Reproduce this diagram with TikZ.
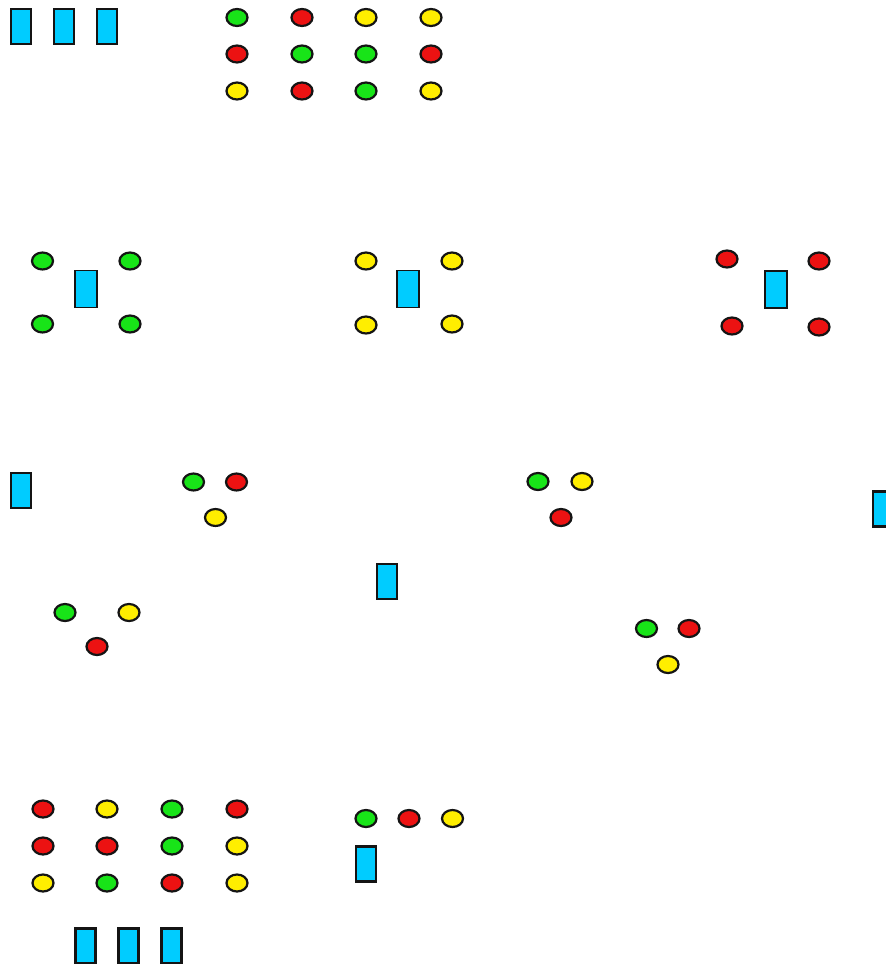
\documentclass[tikz,border=0pt]{standalone}
\definecolor{cgreen}{RGB}{24,228,24}
\definecolor{cred}{RGB}{236,18,18}
\definecolor{cyel}{RGB}{255,238,0}
\definecolor{ccyan}{RGB}{0,204,255}
\definecolor{cedge}{RGB}{20,20,20}
\tikzset{
  lamp/.style={ellipse, draw=cedge, line width=2.2pt, minimum width=21pt, minimum height=17pt, inner sep=0pt},
  G/.style={lamp, fill=cgreen},
  R/.style={lamp, fill=cred},
  Y/.style={lamp, fill=cyel},
  box/.style={rectangle, draw=cedge, fill=ccyan, line width=2.6pt, minimum width=20pt, minimum height=35pt, inner sep=0pt},
  thinbox/.style={rectangle, draw=cedge, fill=ccyan, line width=1.3pt, minimum width=22pt, minimum height=37pt, inner sep=0pt},
}
\usetikzlibrary{shapes.geometric}
\begin{document}
\begin{tikzpicture}[x=1pt,y=-1pt]
\useasboundingbox (0,0) rectangle (886,964);
\clip (0,0) rectangle (886,964);
\fill[white] (0,0) rectangle (886,964);
% top-left boxes
\node[box] (b1) at (21,26.5) {};
\node[box] (b2) at (64,26.5) {};
\node[box] (b3) at (107,26.5) {};
% top grid
\node[G] (t11) at (237,17.5) {};
\node[R] (t12) at (302,17.5) {};
\node[Y] (t13) at (366,17.5) {};
\node[Y] (t14) at (431,17.5) {};
\node[R] (t21) at (237,54) {};
\node[G] (t22) at (302,54) {};
\node[G] (t23) at (366,54) {};
\node[R] (t24) at (431,54) {};
\node[Y] (t31) at (237,91) {};
\node[R] (t32) at (302,91) {};
\node[G] (t33) at (366,91) {};
\node[Y] (t34) at (431,91) {};
% green group
\node[G] (g1) at (42.5,261) {};
\node[G] (g2) at (130,261) {};
\node[G] (g3) at (42.5,324) {};
\node[G] (g4) at (130,324) {};
\node[thinbox] (gb) at (86,289) {};
% yellow group
\node[Y] (y1) at (366,261) {};
\node[Y] (y2) at (452,261) {};
\node[Y] (y3) at (366,325) {};
\node[Y] (y4) at (452,324) {};
\node[thinbox] (yb) at (408,289) {};
% red group
\node[R] (r1) at (727,259) {};
\node[R] (r2) at (819,261) {};
\node[R] (r3) at (732,326) {};
\node[R] (r4) at (819,327) {};
\node[thinbox] (rb) at (776,289.5) {};
% middle section
\node[box] (m1) at (21,490.5) {};
\node[G] (a1) at (193.5,482) {};
\node[R] (a2) at (236.5,482) {};
\node[Y] (a3) at (215.5,517.5) {};
\node[G] (c1) at (538,481.5) {};
\node[Y] (c2) at (582,481.5) {};
\node[R] (c3) at (561,517.5) {};
\node[box] (m2) at (883,509) {};
\node[box] (m3) at (387,581.5) {};
\node[G] (d1) at (65,612.5) {};
\node[Y] (d2) at (129,612.5) {};
\node[R] (d3) at (97,646.5) {};
\node[G] (e1) at (646.5,628.5) {};
\node[R] (e2) at (689,628.5) {};
\node[Y] (e3) at (668,664.5) {};
% bottom grid
\node[R] (u11) at (43,809) {};
\node[Y] (u12) at (107,809) {};
\node[G] (u13) at (172,809) {};
\node[R] (u14) at (237,809) {};
\node[R] (u21) at (43,846) {};
\node[R] (u22) at (107,846) {};
\node[G] (u23) at (172,846) {};
\node[Y] (u24) at (237,846) {};
\node[Y] (u31) at (43,883) {};
\node[G] (u32) at (107,883) {};
\node[R] (u33) at (172,883) {};
\node[Y] (u34) at (237,883) {};
% bottom right row
\node[G] (v1) at (366,818.5) {};
\node[R] (v2) at (409,818.5) {};
\node[Y] (v3) at (452.5,818.5) {};
\node[box] (vb) at (366,864) {};
% bottom boxes
\node[box] (w1) at (85.5,946) {};
\node[box] (w2) at (128.5,946) {};
\node[box] (w3) at (171.5,946) {};
\end{tikzpicture}
\end{document}
